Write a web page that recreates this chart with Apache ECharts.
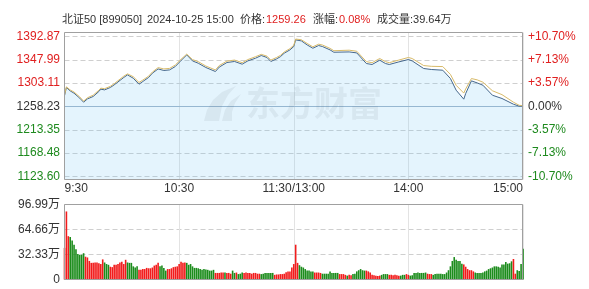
<!DOCTYPE html>
<html><head><meta charset="utf-8">
<script src="https://cdn.jsdelivr.net/npm/echarts@6/dist/echarts.min.js"></script>
<style>html,body{margin:0;padding:0;background:#fff}#c{width:589px;height:289px}</style>
</head><body><div id="c"></div>
<script>
const prevClose = 1258.23;
const timeLabels = ['9:30', '10:30', '11:30/13:00', '14:00', '15:00'];
const priceTickLabels = ['1123.60', '1168.48', '1213.35', '1258.23', '1303.11', '1347.99', '1392.87'];
const pctTickLabels = ['-10.70%', '-7.13%', '-3.57%', '0.00%', '+3.57%', '+7.13%', '+10.70%'];
const volTickLabels = ['0', '32.33万', '64.66万', '96.99万'];
const headerTexts = ['北证50 [899050]', '2024-10-25 15:00', '价格:', '1259.26', '涨幅:', '0.08%', '成交量:39.64万'];

const pointMinutes = [0,1,3,5,6,8,10,12,15,18,19,21,24,26,31,33,36,39,41,44,46,49,52,55,58,61,64,67,70,74,79,81,85,89,93,96,100,103,106,108,111,113,115,118,120,121,124,127,130,133,135,139,141,149,153,158,161,165,168,170,175,180,182,188,192,198,202,205,209,210,213,216,219,224,229,235,238,240];
const priceValues = [1279.0,1294.8,1288.2,1283.8,1280.5,1274.2,1266.5,1272.8,1277.5,1287.1,1291.5,1290.2,1294.8,1299.8,1314.0,1319.0,1312.6,1301.1,1306.3,1314.0,1322.3,1330.5,1327.5,1328.6,1335.1,1346.7,1357.5,1345.9,1341.5,1333.2,1325.5,1334.0,1342.8,1344.8,1339.6,1346.0,1351.1,1356.3,1352.5,1344.8,1349.8,1354.0,1360.7,1367.1,1373.6,1386.3,1384.4,1376.7,1370.3,1375.5,1373.6,1367.1,1362.6,1363.2,1361.3,1340.9,1339.0,1347.3,1340.9,1339.0,1344.0,1348.6,1345.9,1331.3,1329.4,1328.0,1312.1,1289.6,1272.3,1283.2,1307.5,1303.6,1299.2,1279.9,1273.6,1262.6,1258.8,1259.26];
const avgValues = [1280.5,1296.0,1290.0,1286.0,1283.0,1276.5,1268.5,1275.0,1280.0,1289.5,1293.5,1292.5,1297.0,1302.0,1316.5,1321.0,1315.5,1304.5,1309.0,1316.5,1324.5,1333.0,1330.5,1331.5,1338.0,1349.0,1359.0,1348.5,1344.5,1336.0,1328.5,1337.0,1345.5,1347.5,1342.5,1348.5,1354.0,1358.5,1355.0,1347.5,1352.5,1356.5,1363.0,1369.5,1376.0,1388.0,1386.5,1379.5,1373.0,1378.0,1376.5,1370.0,1365.5,1366.5,1364.5,1344.5,1342.5,1350.5,1344.5,1342.5,1347.5,1352.5,1350.5,1337.0,1335.5,1335.0,1320.0,1299.0,1284.0,1292.0,1312.0,1309.5,1305.0,1288.5,1281.0,1266.5,1260.5,1259.8];

const volumes = [
40.9,88,56,55,50.5,45,39,33,32,32,34,29.5,28.5,24,21.5,21.5,22,22,21,20,
26,22,20,19,16.5,16,19,19,20,22,23,20,25.5,22,21.5,21.5,17,15.5,17,12.5,
12.5,13.5,13.5,15,14.5,14.5,15.5,18,19,21.5,17,18,15,11.5,13.5,13.5,14.5,16,16.5,17,
20,23,21.5,22,21.5,19,20,17,15,15,14.5,13.5,12.5,13.5,13,12.5,11.5,11.5,12.5,8.5,
8.5,8.5,9,9,9,8.5,8.5,7.5,11.5,8.5,9,7,7.5,9,8.5,9,8.5,8.5,7.5,8.5,
8.5,7.5,7.5,7,7.5,8.5,8.5,8.5,8.5,8.5,6,6.5,6.5,7,7,7.5,9.5,10.5,10.5,15.5,
20,45,21.5,18.5,16.5,15.5,13.5,11.5,11.5,10.5,10.5,9,9,9,8.5,7.5,7.5,7.5,7.5,10.5,
8.5,8.5,8.5,8.5,7,7,7,6,5,6,5.5,7,7.5,10.5,12,13.5,12,11.5,11.5,10.5,
9,6,5.5,5,4.5,5,6,7,7,7,6,6,5.5,6,5.5,5,5,6,6,7,
6,5,5.5,8.5,8.5,9,8.5,8.5,8.5,9,7.5,7,7,6,7,7.5,7.5,7.5,7,7,
9,12,17,24,29,25.5,24,24,20.5,19.5,16.5,13.5,12,12,10.5,9,8.5,8.5,8.5,9,
10.5,11.5,13.5,14.5,15.5,17,17,16.5,15.5,19.5,19.5,22.5,20.5,21,23.5,26.5,7.5,12,11,20,
39.64];
const volDir = ('rrr gggggggg rrrrrrrrrr ggg rrrrrrrrr gggggg rrrrrrrrrrr gggg rrrrrrrrrr ' +
  'ggggggggggggggg rrrrr g rrr gg r ggg rrrrrrrrr ggggggg rrrrrrrrrrrrr gggggggg rrrr ' +
  'ggggggggg rrrr g rr ggggggg rrrrrrrr gggg rrrrrr ggg rr ggggggggg rrr gggggggggggggggg ' +
  'rrrrrr gggggggggggggggggggg rr gggg').replace(/ /g, '');

const RED = '#f21c1c', GREEN = '#1c8c1c';
const FONT = '"Liberation Sans", Arial, "Noto Sans CJK SC", sans-serif';
const pctTicks = pctTickLabels.map(s => parseFloat(s));
const toPct = p => (p / prevClose - 1) * 100;
const nearestTick = v => { let b = 0; pctTicks.forEach((t, i) => { if (Math.abs(t - v) < Math.abs(pctTicks[b] - v)) b = i; }); return b; };
const tickColor = v => { const i = nearestTick(v); return i > 3 ? '#e02020' : (i < 3 ? '#1e8a1e' : '#333'); };
const DASH = {color: '#cfcfcf', type: [5, 3], width: 1};
const WM = 'rgba(90,100,110,0.09)';

const headerX = [62, 147, 240, 266, 313, 339, 377];
const headerColors = ['#333', '#333', '#333', '#e02020', '#333', '#e02020', '#333'];
const headerGraphics = headerTexts.map((t, i) => ({
  type: 'text', x: headerX[i], y: 19.5, silent: true,
  style: {text: t, fill: headerColors[i], font: '11px ' + FONT, verticalAlign: 'middle'}
}));

const chart = echarts.init(document.getElementById('c'), null, {renderer: 'canvas'});
chart.setOption({
  animation: false,
  backgroundColor: '#fff',
  grid: [
    {left: 64.5, right: 66, top: 32.5, height: 147},
    {left: 64.5, right: 66, top: 204.5, height: 75}
  ],
  xAxis: [
    {type: 'value', gridIndex: 0, min: 0, max: 240, interval: 60,
     axisLine: {show: false}, axisTick: {show: false},
     axisLabel: {margin: 3, color: '#333', fontSize: 12, fontFamily: FONT,
       formatter: v => timeLabels[Math.round(v / 60)],
       alignMinLabel: 'left', alignMaxLabel: 'right'},
     splitLine: {show: true, lineStyle: {color: '#e3e3e3', width: 1}}},
    {type: 'value', gridIndex: 1, min: 0, max: 240, interval: 60,
     axisLine: {show: false}, axisTick: {show: false}, axisLabel: {show: false},
     splitLine: {show: true, lineStyle: {color: '#e3e3e3', width: 1}}}
  ],
  yAxis: [
    {type: 'value', gridIndex: 0, min: -11.16, max: 11.31, position: 'left',
     axisLine: {show: false}, axisTick: {show: false},
     axisLabel: {margin: 4.5, fontSize: 12, fontFamily: FONT, customValues: pctTicks,
       formatter: v => priceTickLabels[nearestTick(v)], color: tickColor},
     splitLine: {show: false}},
    {type: 'value', gridIndex: 0, min: -11.16, max: 11.31, position: 'right',
     axisLine: {show: false}, axisTick: {show: false},
     axisLabel: {margin: 5, fontSize: 12, fontFamily: FONT, customValues: pctTicks,
       formatter: v => pctTickLabels[nearestTick(v)], color: tickColor},
     splitLine: {show: false}},
    {type: 'value', gridIndex: 1, min: 0, max: 96.99, interval: 32.33,
     axisLine: {show: false}, axisTick: {show: false},
     axisLabel: {margin: 4.5, fontSize: 12, fontFamily: FONT, color: '#333',
       formatter: v => volTickLabels[Math.round(v / 32.33)]},
     splitLine: {show: true, lineStyle: DASH}}
  ],
  graphic: headerGraphics.concat([
    {type: 'polygon', z: 10, silent: true,
     shape: {points: [[204, 121], [207, 110], [213, 100], [222, 92], [236, 86], [228, 95], [222, 106], [219, 121]]},
     style: {fill: WM}},
    {type: 'polygon', z: 10, silent: true,
     shape: {points: [[222, 121], [225, 110], [231, 101], [241, 94], [235, 103], [232, 112], [232, 121]]},
     style: {fill: WM}},
    {type: 'text', left: 246, top: 86, z: 10, silent: true,
     style: {text: '东方财富', font: 'bold 34px "Noto Sans CJK SC"', fill: WM}},
    {type: 'rect', z: 100, silent: true, shape: {x: 64.5, y: 32.5, width: 458, height: 147},
     style: {fill: null, stroke: '#a0a0a0', lineWidth: 1}},
    {type: 'rect', z: 100, silent: true, shape: {x: 64.5, y: 204.5, width: 458, height: 75},
     style: {fill: null, stroke: '#a0a0a0', lineWidth: 1}}
  ]),
  series: [
    {type: 'line', name: 'price', xAxisIndex: 0, yAxisIndex: 0, z: 2,
     data: pointMinutes.map((m, i) => [m, toPct(priceValues[i])]),
     showSymbol: false, lineStyle: {color: '#44678c', width: 1},
     areaStyle: {color: 'rgba(120,200,245,0.2)', origin: 'start', opacity: 1},
     markLine: {silent: true, symbol: 'none', label: {show: false}, z: 1,
       data: pctTicks.map(t => ({yAxis: t, lineStyle: t === 0
         ? {color: '#9eb3c8', type: 'solid', width: 1} : DASH}))}},
    {type: 'line', name: 'avg', xAxisIndex: 0, yAxisIndex: 0, z: 3,
     data: pointMinutes.map((m, i) => [m, toPct(avgValues[i])]),
     showSymbol: false, lineStyle: {color: '#d8bb6a', width: 1}},
    {type: 'bar', name: 'vol', xAxisIndex: 1, yAxisIndex: 2,
     barWidth: 1.6,
     data: volumes.map((v, i) => ({value: [i, v], itemStyle: {color: volDir[i] === 'r' ? RED : GREEN}}))}
  ]
});
</script></body></html>
